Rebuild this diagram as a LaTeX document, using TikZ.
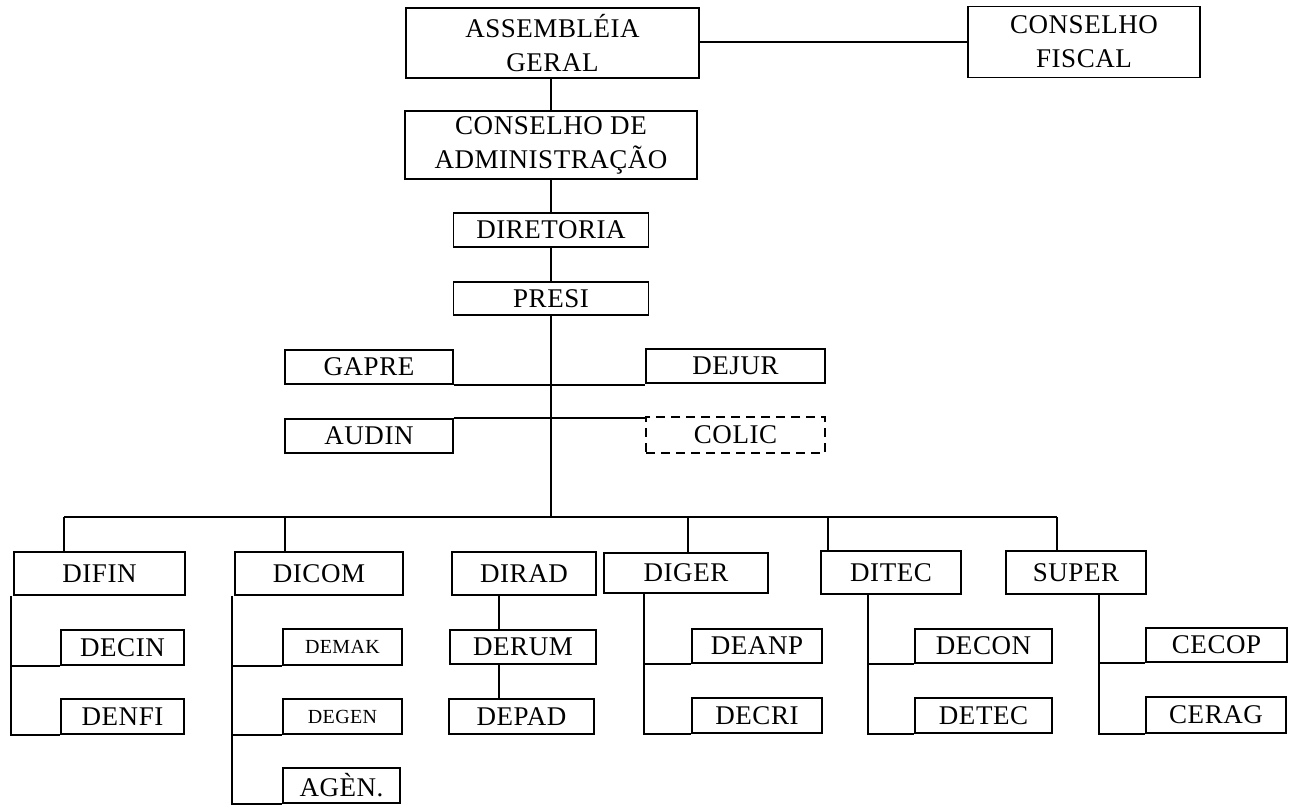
\documentclass[tikz,border=0pt]{standalone}
\usepackage{fontspec}
\setmainfont{Liberation Serif}[LetterSpace=2]
\begin{document}
\begin{tikzpicture}[x=1pt,y=-1pt,
  box/.style={draw, line width=1.8pt, inner sep=0pt, align=center,
    font=\fontsize{27}{34}\selectfont},
  smallbox/.style={box, font=\fontsize{20}{24}\selectfont},
  dashbox/.style={box, dashed, dash pattern=on 9pt off 6pt},
  ln/.style={line width=1.8pt}]
\useasboundingbox (0,0) rectangle (1294,809);
% top levels
\node[box, minimum width=293, minimum height=70] (asm) at (552.5,43) {ASSEMBLÉIA\\GERAL};
\node[box, minimum width=232, minimum height=71] (fis) at (1084,42) {CONSELHO\\FISCAL};
\node[box, minimum width=292, minimum height=68] (cons) at (551,145) {CONSELHO DE\\ADMINISTRAÇÃO};
\node[box, minimum width=195, minimum height=34] (dir) at (551,230) {DIRETORIA};
\node[box, minimum width=195, minimum height=33] (presi) at (551,298.5) {PRESI};
\node[box, minimum width=168, minimum height=34] (gapre) at (369,367) {GAPRE};
\node[box, minimum width=179, minimum height=34] (dejur) at (735.5,366) {DEJUR};
\node[box, minimum width=168, minimum height=34] (audin) at (369,436) {AUDIN};
\node[dashbox, minimum width=179, minimum height=36] (colic) at (735.5,435) {COLIC};
% directorates
\node[box, minimum width=171, minimum height=43] (difin) at (99.5,573.5) {DIFIN};
\node[box, minimum width=123, minimum height=35] (decin) at (122.5,647.5) {DECIN};
\node[box, minimum width=123, minimum height=35] (denfi) at (122.5,716.5) {DENFI};
\node[box, minimum width=168, minimum height=43] (dicom) at (319,573.5) {DICOM};
\node[smallbox, minimum width=119, minimum height=36] (demak) at (342.5,647) {DEMAK};
\node[smallbox, minimum width=119, minimum height=35] (degen) at (342.5,716.5) {DEGEN};
\node[box, minimum width=117, minimum height=35] (agen) at (341.5,785.5) {AGÈN.};
\node[box, minimum width=144, minimum height=43] (dirad) at (524,573.5) {DIRAD};
\node[box, minimum width=146, minimum height=34] (derum) at (523,647) {DERUM};
\node[box, minimum width=145, minimum height=35] (depad) at (521.5,716.5) {DEPAD};
\node[box, minimum width=164, minimum height=40] (diger) at (686,573) {DIGER};
\node[box, minimum width=130, minimum height=34] (deanp) at (757,646) {DEANP};
\node[box, minimum width=130, minimum height=35] (decri) at (757,715.5) {DECRI};
\node[box, minimum width=140, minimum height=43] (ditec) at (891,572.5) {DITEC};
\node[box, minimum width=137, minimum height=34] (decon) at (983.5,646) {DECON};
\node[box, minimum width=137, minimum height=35] (detec) at (983.5,715.5) {DETEC};
\node[box, minimum width=140, minimum height=43] (super) at (1076,572.5) {SUPER};
\node[box, minimum width=141, minimum height=34] (cecop) at (1216.5,645) {CECOP};
\node[box, minimum width=140, minimum height=36] (cerag) at (1216,715) {CERAG};
% helper coordinates
\coordinate (b1) at (64,517);
\coordinate (b2) at (285,517);
\coordinate (b4) at (688,517);
\coordinate (b5) at (828,517);
\coordinate (b6) at (1057,517);
\coordinate (vdr) at (499,595);
\coordinate (vdg) at (644,593);
\coordinate (vdt) at (868,594);
\coordinate (vsp) at (1099,594);
% connectors
\draw[ln] (asm.east |- fis.west) -- (fis.west);
\draw[ln] (cons.north |- asm.south) -- (cons.north);
\draw[ln] (dir.north |- cons.south) -- (dir.north);
\draw[ln] (dir.south) -- (presi.north);
\draw[ln] (presi.south) -- (presi.south |- b1);
\draw[ln] (gapre.south east) -- (dejur.south west |- gapre.south east);
\draw[ln] (audin.north east) -- (colic.north west |- audin.north east);
\draw[ln] (b1) -- (b6);
\draw[ln] (b1) -- (b1 |- difin.north);
\draw[ln] (b2) -- (b2 |- dicom.north);
\draw[ln] (b4) -- (b4 |- diger.north);
\draw[ln] (b5) -- (b5 |- ditec.north);
\draw[ln] (b6) -- (b6 |- super.north);
% sub-branches
\draw[ln] ([xshift=-2pt]difin.south west) |- (denfi.south west);
\draw[ln] ([xshift=-2pt]difin.south west |- decin.south west) -- (decin.south west);
\draw[ln] ([xshift=-2pt]dicom.south west) |- (agen.south west);
\draw[ln] ([xshift=-2pt]dicom.south west |- demak.south west) -- (demak.south west);
\draw[ln] ([xshift=-2pt]dicom.south west |- degen.south west) -- (degen.south west);
\draw[ln] (vdr) -- (vdr |- derum.north);
\draw[ln] (vdr |- derum.south) -- (vdr |- depad.north);
\draw[ln] (vdg) |- (decri.south west);
\draw[ln] (vdg |- deanp.south west) -- (deanp.south west);
\draw[ln] (vdt) |- (detec.south west);
\draw[ln] (vdt |- decon.south west) -- (decon.south west);
\draw[ln] (vsp) |- (cerag.south west);
\draw[ln] (vsp |- cecop.south west) -- (cecop.south west);
\end{tikzpicture}
\end{document}
